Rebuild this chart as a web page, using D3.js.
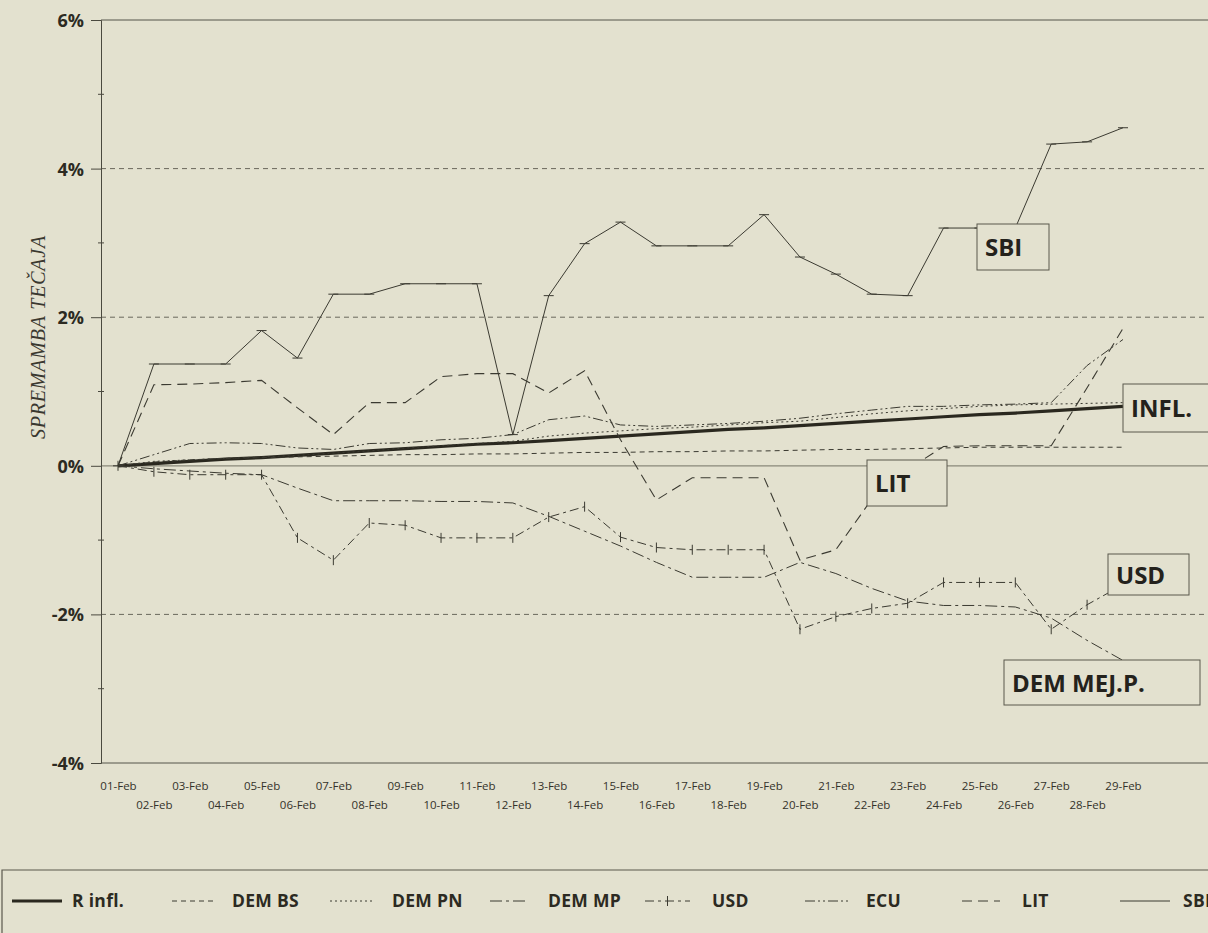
<!DOCTYPE html>
<meta charset="utf-8">
<head>
<title>Spremamba tečaja - februar</title>
<script src="https://cdn.jsdelivr.net/npm/d3@7"></script>
<style>
  body { margin: 0; background: #e3e1cf; }
  svg { display: block; }
  .ylab { font: bold 18px "Open Sans", sans-serif; fill: #2c2a22; }
  .xlab { font: 11.5px "Open Sans", sans-serif; fill: #34322a; }
  .ytitle { font: italic 20px "Liberation Serif", serif; fill: #3a382f; letter-spacing: 0.8px; }
  .boxlab { font: bold 24px "Open Sans", sans-serif; fill: #24221c; }
  .leglab { font: bold 17.5px "Open Sans", sans-serif; fill: #2c2a22; letter-spacing: 0.3px; }
</style>
</head>
<body>
<div id="chart"></div>
<script>
// dates on the x axis
var days = ["01-Feb","02-Feb","03-Feb","04-Feb","05-Feb","06-Feb","07-Feb","08-Feb","09-Feb","10-Feb",
            "11-Feb","12-Feb","13-Feb","14-Feb","15-Feb","16-Feb","17-Feb","18-Feb","19-Feb","20-Feb",
            "21-Feb","22-Feb","23-Feb","24-Feb","25-Feb","26-Feb","27-Feb","28-Feb","29-Feb"];
var yTicks = [-4, -2, 0, 2, 4, 6];
var yMinor = [-3, -1, 1, 3, 5];

// values in %
var rInfl = [0,0.03,0.06,0.09,0.11,0.14,0.17,0.2,0.23,0.26,0.29,0.31,0.34,0.37,0.4,0.43,0.46,0.49,0.51,0.54,0.57,0.6,0.63,0.66,0.69,0.71,0.74,0.77,0.8];
var demBs = [0,0.05,0.08,0.1,0.11,0.12,0.13,0.14,0.15,0.15,0.16,0.16,0.17,0.18,0.18,0.19,0.19,0.2,0.2,0.21,0.22,0.22,0.23,0.24,0.25,0.25,0.25,0.25,0.25];
var demPn = [0,0.06,0.08,0.1,0.12,0.14,0.17,0.2,0.24,0.27,0.3,0.33,0.4,0.44,0.47,0.5,0.52,0.55,0.58,0.6,0.65,0.7,0.74,0.77,0.8,0.82,0.83,0.84,0.85];
var demMp = [0,-0.04,-0.07,-0.1,-0.12,-0.3,-0.47,-0.47,-0.47,-0.48,-0.48,-0.5,-0.68,-0.88,-1.08,-1.3,-1.5,-1.5,-1.5,-1.3,-1.45,-1.65,-1.82,-1.88,-1.88,-1.9,-2.05,-2.35,-2.62];
var usd   = [0,-0.08,-0.12,-0.12,-0.12,-0.97,-1.27,-0.77,-0.8,-0.97,-0.97,-0.97,-0.69,-0.55,-0.96,-1.1,-1.13,-1.13,-1.13,-2.2,-2.03,-1.92,-1.85,-1.57,-1.57,-1.57,-2.2,-1.87,-1.6];
var ecu   = [0,0.15,0.3,0.31,0.3,0.24,0.22,0.3,0.31,0.35,0.37,0.42,0.62,0.67,0.55,0.53,0.55,0.57,0.6,0.64,0.7,0.75,0.8,0.8,0.82,0.83,0.85,1.35,1.7];
var lit   = [0,1.09,1.1,1.12,1.15,0.78,0.42,0.85,0.85,1.2,1.24,1.24,0.98,1.28,0.35,-0.46,-0.16,-0.16,-0.16,-1.27,-1.13,-0.45,-0.05,0.26,0.27,0.27,0.27,1.05,1.85];
var sbi   = [0,1.37,1.37,1.37,1.82,1.45,2.31,2.31,2.45,2.45,2.45,0.42,2.29,2.99,3.28,2.96,2.96,2.96,3.38,2.81,2.58,2.31,2.29,3.2,3.2,3.2,4.33,4.36,4.55];

var legendNames = ["R infl.", "DEM BS", "DEM PN", "DEM MP", "USD", "ECU", "LIT", "SBI"];

var W = 1208, H = 933;
var ink = "#3b3a31";

var svg = d3.select("#chart").append("svg")
    .attr("width", W).attr("height", H);

var x = d3.scalePoint().domain(days).range([118, 1123]);
var y = d3.scaleLinear().domain([-4, 6]).range([763, 20]);
var left = 101;

// frame + grid
var grid = svg.append("g");
yTicks.forEach(function (v) {
  var l = grid.append("line")
      .attr("x1", left).attr("x2", W)
      .attr("y1", y(v)).attr("y2", y(v))
      .attr("stroke", v == 0 ? "#8a887a" : "#55544a")
      .attr("stroke-width", v == 0 ? 1.3 : 1);
  if (v != 0 && v != 6 && v != -4) l.attr("stroke-dasharray", "5,4").attr("stroke", "#6a685c");
});

// y axis
var yAxis = d3.axisLeft(y).tickValues(yTicks).tickSize(10).tickFormat(function (d) { return d + "%"; });
var gy = svg.append("g").attr("transform", "translate(" + left + ",0)").call(yAxis);
gy.attr("font-size", null).attr("font-family", null);
gy.select(".domain").attr("stroke", "#4a493f");
gy.selectAll(".tick line").attr("stroke", "#4a493f");
gy.selectAll(".tick text").attr("class", "ylab").attr("x", -17).attr("dy", "0.36em");

svg.append("g").selectAll("line").data(yMinor).enter().append("line")
    .attr("x1", left - 3).attr("x2", left + 3)
    .attr("y1", function (d) { return y(d); }).attr("y2", function (d) { return y(d); })
    .attr("stroke", "#4a493f");

svg.append("text").attr("class", "ytitle")
    .attr("transform", "translate(45,337) rotate(-90)")
    .attr("text-anchor", "middle")
    .text("SPREMAMBA TEČAJA");

// x axis labels, two staggered rows
var xAxis = d3.axisBottom(x).tickSize(0);
var gx = svg.append("g").attr("transform", "translate(0,763)").call(xAxis);
gx.attr("font-size", null).attr("font-family", null);
gx.select(".domain").remove();
gx.selectAll(".tick text").attr("class", "xlab")
    .attr("y", function (d, i) { return i % 2 == 0 ? 27 : 46; })
    .attr("dy", 0);

// series
var series = [
  { name: "R infl.", values: rInfl, dash: null,              width: 3.2 },
  { name: "DEM BS",  values: demBs, dash: "5,4",             width: 1 },
  { name: "DEM PN",  values: demPn, dash: "2,3",             width: 1 },
  { name: "DEM MP",  values: demMp, dash: "12,4,3,4",        width: 1 },
  { name: "USD",     values: usd,   dash: "9,4,3,4",         width: 1 },
  { name: "ECU",     values: ecu,   dash: "10,3,2,3,2,3",    width: 1 },
  { name: "LIT",     values: lit,   dash: "10,6",            width: 1.1 },
  { name: "SBI",     values: sbi,   dash: null,              width: 1 }
];

var line = d3.line()
    .x(function (d, i) { return x(days[i]); })
    .y(function (d) { return y(d); });

var gs = svg.append("g");
series.forEach(function (s) {
  gs.append("path")
    .attr("d", line(s.values))
    .attr("fill", "none")
    .attr("stroke", s.name == "R infl." ? "#2a281f" : ink)
    .attr("stroke-width", s.width)
    .attr("stroke-dasharray", s.dash);
});

// markers: small flats on SBI, cross ticks on USD
gs.append("g").selectAll("line").data(sbi).enter().append("line")
    .attr("x1", function (d, i) { return x(days[i]) - 5; })
    .attr("x2", function (d, i) { return x(days[i]) + 5; })
    .attr("y1", function (d) { return y(d); }).attr("y2", function (d) { return y(d); })
    .attr("stroke", ink).attr("stroke-width", 1);
gs.append("g").selectAll("line").data(usd).enter().append("line")
    .attr("x1", function (d, i) { return x(days[i]); })
    .attr("x2", function (d, i) { return x(days[i]); })
    .attr("y1", function (d) { return y(d) - 5; }).attr("y2", function (d) { return y(d) + 5; })
    .attr("stroke", ink).attr("stroke-width", 1);

// label boxes
var boxes = [
  { text: "SBI",        x: 977,  y: 224, w: 72,  h: 46 },
  { text: "INFL.",      x: 1123, y: 384, w: 110, h: 48 },
  { text: "LIT",        x: 867,  y: 460, w: 80,  h: 46 },
  { text: "USD",        x: 1108, y: 554, w: 81,  h: 41 },
  { text: "DEM MEJ.P.", x: 1004, y: 660, w: 196, h: 45 }
];
var gb = svg.append("g").selectAll("g").data(boxes).enter().append("g");
gb.append("rect")
    .attr("x", function (d) { return d.x; }).attr("y", function (d) { return d.y; })
    .attr("width", function (d) { return d.w; }).attr("height", function (d) { return d.h; })
    .attr("fill", "#e3e1cf").attr("stroke", "#5a584d").attr("stroke-width", 1);
gb.append("text").attr("class", "boxlab")
    .attr("x", function (d) { return d.x + 8; })
    .attr("y", function (d) { return d.y + d.h / 2 + 9; })
    .text(function (d) { return d.text; });

// legend
var legY = 901;
var legGlyph = [[12, 62], [172, 215], [330, 375], [490, 525], [645, 690], [805, 848], [962, 1000], [1120, 1170]];
var legText = [72, 232, 392, 548, 712, 866, 1022, 1183];
svg.append("path")
    .attr("d", "M2," + H + "V870H" + W)
    .attr("fill", "none").attr("stroke", "#5a584d").attr("stroke-width", 1.2);
var gl = svg.append("g");
legendNames.forEach(function (n, i) {
  var s = series[i];
  gl.append("line")
    .attr("x1", legGlyph[i][0]).attr("x2", legGlyph[i][1])
    .attr("y1", legY).attr("y2", legY)
    .attr("stroke", i == 0 ? "#2a281f" : ink)
    .attr("stroke-width", i == 0 ? 3 : 1)
    .attr("stroke-dasharray", s.dash);
  if (n == "USD") {
    gl.append("line").attr("x1", (legGlyph[i][0] + legGlyph[i][1]) / 2).attr("x2", (legGlyph[i][0] + legGlyph[i][1]) / 2)
      .attr("y1", legY - 5).attr("y2", legY + 5).attr("stroke", ink);
  }
  gl.append("text").attr("class", "leglab")
    .attr("x", legText[i]).attr("y", legY + 6)
    .text(n);
});
</script>
</body>
</html>
